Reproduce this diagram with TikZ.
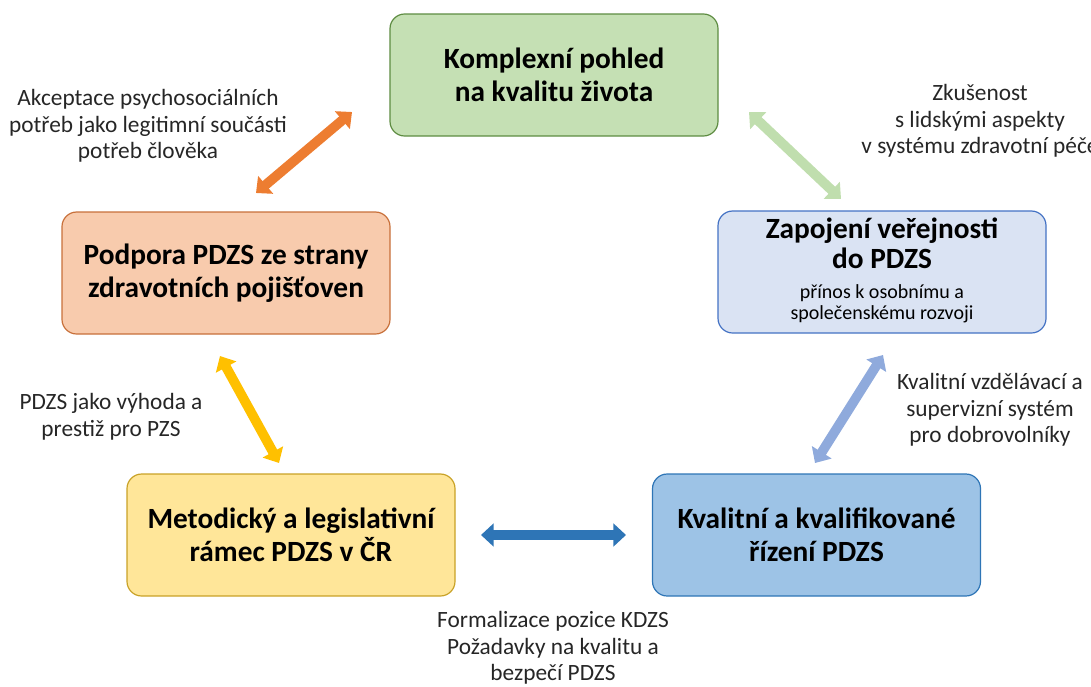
\documentclass[tikz,border=0pt]{standalone}
\usepackage{fontspec}
\setmainfont{Carlito}
\usetikzlibrary{arrows.meta}
\definecolor{gfill}{HTML}{C5E0B4}\definecolor{gdraw}{HTML}{5E8C42}
\definecolor{ofill}{HTML}{F8CBAD}\definecolor{odraw}{HTML}{C8703A}
\definecolor{bfill}{HTML}{DAE3F3}\definecolor{bdraw}{HTML}{4472C4}
\definecolor{yfill}{HTML}{FFE699}\definecolor{ydraw}{HTML}{C9A227}
\definecolor{mfill}{HTML}{9DC3E6}\definecolor{mdraw}{HTML}{2E75B6}
\definecolor{aorange}{HTML}{ED7D31}
\definecolor{agreen}{HTML}{C0DEAE}
\definecolor{ayellow}{HTML}{FFC000}
\definecolor{alblue}{HTML}{8FAADC}
\definecolor{ablue}{HTML}{2E75B6}
\definecolor{txt}{HTML}{262626}
\tikzset{
  box/.style={draw, line width=0.9pt, rounded corners=11pt, minimum width=246pt, minimum height=91.5pt,
    align=center, inner sep=2pt, font=\fontsize{22}{24.75}\selectfont\bfseries, text=black},
  lbl/.style={align=center, font=\fontsize{17.5}{20}\selectfont, text=txt, inner sep=0pt},
  fat/.style={line width=7.3pt, {Triangle[length=9.5pt,width=17pt]}-{Triangle[length=9.5pt,width=17pt]}}
}
\begin{document}
\begin{tikzpicture}[x=0.75pt,y=-0.75pt]
\useasboundingbox (0,0) rectangle (1091,686);
\node[box, fill=gfill, draw=gdraw] (kp) at (554,75) {Komplexní pohled\\na kvalitu života};
\node[box, fill=ofill, draw=odraw] (pp) at (226,273) {Podpora PDZS ze strany\\zdravotních pojišťoven};
\node[box, fill=bfill, draw=bdraw, font=\fontsize{22}{22.5}\selectfont\bfseries] (zv) at (882,272) {Zapojení veřejnosti\\do PDZS\\{\fontsize{15}{15.75}\selectfont\mdseries\begin{tabular}[t]{@{}c@{}}přínos k osobnímu a\\společenskému rozvoji\end{tabular}}};
\node[box, fill=yfill, draw=ydraw] (mr) at (291,535) {Metodický a legislativní\\rámec PDZS v ČR};
\node[box, fill=mfill, draw=mdraw] (kr) at (816.5,535) {Kvalitní a kvalifikované\\řízení PDZS};

\coordinate (o1) at (256,193); \coordinate (o2) at (352,112);
\coordinate (g1) at (749,112); \coordinate (g2) at (841,199);
\coordinate (y1) at (220,356); \coordinate (y2) at (279,463);
\coordinate (l1) at (883,355); \coordinate (l2) at (815,463);
\coordinate (h1) at (481,535); \coordinate (h2) at (626,535);
\draw[fat, aorange] (o1) -- (o2);
\draw[fat, agreen] (g1) -- (g2);
\draw[fat, ayellow] (y1) -- (y2);
\draw[fat, alblue] (l1) -- (l2);
\draw[fat, ablue] (h1) -- (h2);

\node[lbl] (t1) at (148,126) {Akceptace psychosociálních\\potřeb jako legitimní součásti\\potřeb člověka};
\node[lbl] (t2) at (980,121) {Zkušenost\\s lidskými aspekty\\v systému zdravotní péče};
\node[lbl] (t3) at (111,417) {PDZS jako výhoda a\\prestiž pro PZS};
\node[lbl] (t4) at (990,410) {Kvalitní vzdělávací a\\supervizní systém\\pro dobrovolníky};
\node[lbl] (t5) at (553,648) {Formalizace pozice KDZS\\Požadavky na kvalitu a\\bezpečí PDZS};
\end{tikzpicture}
\end{document}
